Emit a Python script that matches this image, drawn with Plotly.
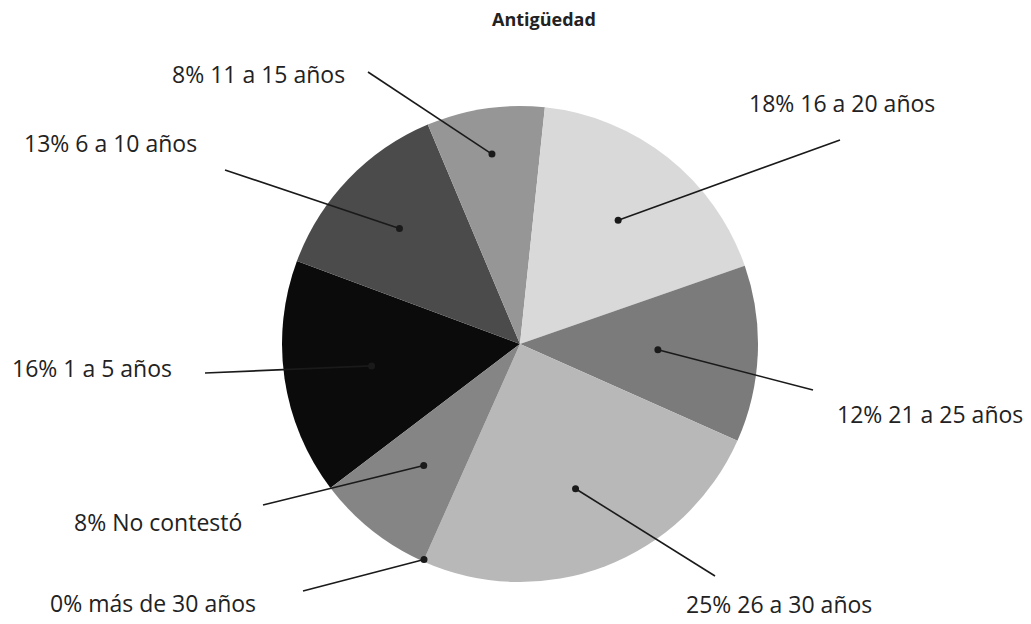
import math
import plotly.graph_objects as go

# ---- data ----
categories = ["1 a 5 años", "6 a 10 años", "11 a 15 años", "16 a 20 años",
              "21 a 25 años", "26 a 30 años", "más de 30 años", "No contestó"]
percent = [16, 13, 8, 18, 12, 25, 0, 8]
colors = ["#0b0b0b", "#4b4b4b", "#969696", "#d9d9d9",
          "#7b7b7b", "#b8b8b8", "#6a6a6a", "#858585"]
title = "Antigüedad"

# ---- layout constants (pixels in the screenshot) ----
W, H = 1031, 624
OFF = 8  # page body margin
CX, CY, R = 520, 344, 238
ROTATION = -127.2

# label text positions (left edge, middle y) and line start points
label_pos = [(10, 368), (22, 143), (170, 74), (747, 103),
             (835, 414), (684, 604), (48, 603), (72, 522)]
line_start = [(205, 373), (225, 170), (368, 72), (840, 140),
              (813, 390), (715, 576), (303, 591), (263, 505)]
dot_radius = [150, 167, 192, 158, 138, 155, 236, 155]


def px(x):
    return (x - OFF) / W


def py(y):
    return 1 - (y - OFF) / H


fig = go.Figure()
fig.add_trace(go.Pie(
    labels=categories, values=percent, sort=False, direction="clockwise",
    rotation=ROTATION, textinfo="none", hoverinfo="label+percent",
    marker=dict(colors=colors, line=dict(width=0)),
    domain=dict(x=[px(CX - R), px(CX + R)], y=[py(CY + R), py(CY - R)]),
    showlegend=False,
))

shapes = []
annotations = []
total = sum(percent)
cum = 0.0
for i, (cat, v) in enumerate(zip(categories, percent)):
    mid = ROTATION + 360.0 * (cum + v / 2.0) / total
    cum += v
    a = math.radians(mid)
    dx = CX + dot_radius[i] * math.sin(a)
    dy = CY - dot_radius[i] * math.cos(a)
    sx, sy = line_start[i]
    shapes.append(dict(type="line", xref="paper", yref="paper",
                       x0=px(sx), y0=py(sy), x1=px(dx), y1=py(dy),
                       line=dict(color="#1a1a1a", width=1.6)))
    shapes.append(dict(type="circle", xref="paper", yref="paper",
                       x0=px(dx - 3.5), x1=px(dx + 3.5),
                       y0=py(dy + 3.5), y1=py(dy - 3.5),
                       fillcolor="#1a1a1a", line=dict(width=0)))
    lx, ly = label_pos[i]
    annotations.append(dict(text=f"{v}% {cat}", x=px(lx), y=py(ly),
                            xref="paper", yref="paper", xanchor="left",
                            yanchor="middle", showarrow=False,
                            font=dict(family="Open Sans", size=23, color="#222222")))

annotations.append(dict(text=f"<b>{title}</b>", x=px(544), y=py(19),
                        xref="paper", yref="paper", xanchor="center",
                        yanchor="middle", showarrow=False,
                        font=dict(family="Open Sans", size=18, color="#222222")))

fig.update_layout(
    width=W, height=H,
    margin=dict(l=0, r=0, t=0, b=0),
    paper_bgcolor="white", plot_bgcolor="white",
    shapes=shapes, annotations=annotations,
)

fig.write_html("out.html")
